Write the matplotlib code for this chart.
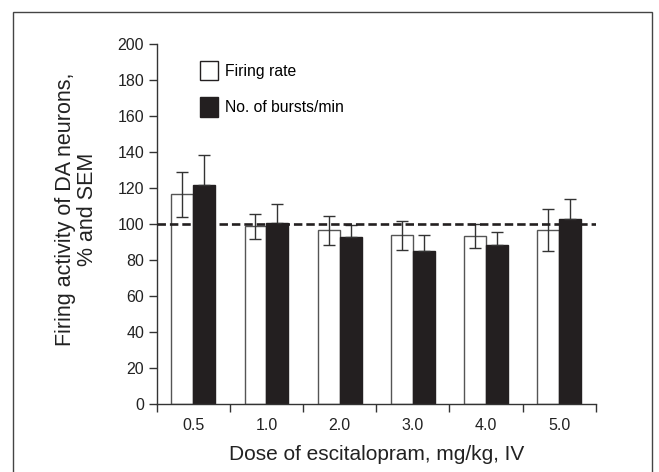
import numpy as np
import matplotlib.pyplot as plt
from matplotlib.patches import Patch, Rectangle

plt.rcParams['font.family'] = ['Liberation Sans', 'DejaVu Sans']

doses = ["0.5", "1.0", "2.0", "3.0", "4.0", "5.0"]
firing_rate = [116.5, 98.5, 96.3, 93.5, 93.3, 96.5]
firing_sem = [12.5, 7.0, 8.0, 8.2, 6.7, 11.8]
bursts = [121.5, 100.5, 92.5, 85.0, 88.4, 102.5]
bursts_sem = [16.5, 10.5, 6.6, 8.6, 6.8, 11.0]

black = "#231f20"

fig = plt.figure(figsize=(6.59, 4.72), dpi=100)
ax = fig.add_axes([0.2378, 0.1447, 0.6662, 0.7627])

x = np.arange(len(doses))
w = 0.3
ax.bar(x - w / 2, firing_rate, w, color="white", edgecolor="#555555", linewidth=1.0, zorder=2)
ax.bar(x + w / 2, bursts, w, color=black, edgecolor=black, linewidth=1.0, zorder=2)
ax.errorbar(x - w / 2, firing_rate, yerr=firing_sem, fmt="none", ecolor="#333333",
            elinewidth=1.0, capsize=4.6, capthick=1.0, zorder=3)
# lower half of the burst SEM is hidden inside the black bar
ax.errorbar(x + w / 2, bursts, yerr=[np.zeros(len(bursts_sem)), bursts_sem], fmt="none",
            ecolor="#333333", elinewidth=1.0, capsize=4.6, capthick=1.0, zorder=3)

# baseline at 100 %
ax.axhline(100, color=black, linewidth=1.9, dashes=(3.2, 1.5), zorder=4)

ax.set_xlim(-0.5, len(doses) - 0.5)
ax.set_ylim(0, 200)
ax.set_yticks(np.arange(0, 201, 20))
ax.set_xticks(np.arange(-0.5, len(doses), 1.0))
ax.set_xticklabels([])
ax.set_xticks(x, minor=True)
ax.set_xticklabels(doses, minor=True)
ax.tick_params(axis="x", which="major", direction="out", length=6, width=1, color="#333333")
ax.tick_params(axis="x", which="minor", length=0, labelsize=11.5, colors="#222222", pad=10)
ax.tick_params(axis="y", direction="out", length=5.5, width=1, labelsize=11.5,
               colors="#333333", labelcolor="#222222", pad=3.5)

for s in ["top", "right"]:
    ax.spines[s].set_visible(False)
for s in ["left", "bottom"]:
    ax.spines[s].set_linewidth(1.0)
    ax.spines[s].set_color("#333333")

ax.set_xlabel("Dose of escitalopram, mg/kg, IV", fontsize=15, color="#222222", labelpad=9)
ax.set_ylabel("Firing activity of DA neurons,\n% and SEM", fontsize=15.5, color="#222222",
              linespacing=1.05)
ax.yaxis.set_label_coords(-0.134, 0.541)

handles = [Patch(facecolor="white", edgecolor=black, linewidth=1.0),
           Patch(facecolor=black, edgecolor=black, linewidth=1.0)]
ax.legend(handles, ["Firing rate", "No. of bursts/min"], loc="upper left",
          bbox_to_anchor=(0.0986, 0.952), frameon=False, fontsize=11.3,
          handlelength=1.15, handleheight=1.5, handletextpad=0.45,
          labelspacing=1.1, borderpad=0, borderaxespad=0)

# frame round the whole figure
fig.patches.append(Rectangle((13 / 659, -0.05), 639 / 659, 1.05 - 12 / 472,
                             transform=fig.transFigure, fill=False,
                             edgecolor="#444444", linewidth=1.0))

fig.savefig("out.png", dpi=100)
